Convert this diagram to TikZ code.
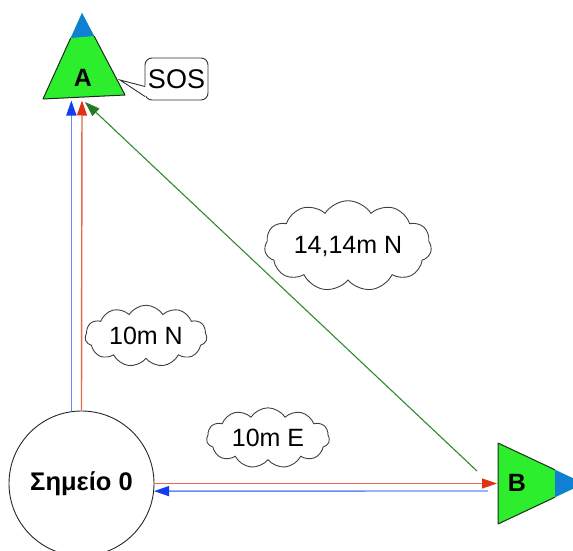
\documentclass[tikz,border=0pt]{standalone}
\usepackage{fontspec}
\setmainfont{Liberation Sans}
\usetikzlibrary{shapes.symbols,arrows.meta,calc}
\definecolor{tgreen}{RGB}{45,238,45}
\definecolor{tblue}{RGB}{15,128,212}
\definecolor{edge}{RGB}{25,45,25}
\definecolor{lineblue}{RGB}{95,140,250}
\definecolor{headblue}{RGB}{20,60,240}
\definecolor{linered}{RGB}{228,105,80}
\definecolor{headred}{RGB}{225,50,20}
\definecolor{linegreen}{RGB}{45,140,45}
\begin{document}
\begin{tikzpicture}[x=1pt,y=-1pt,
  lbl/.style={font=\fontsize{25}{29}\selectfont\bfseries, inner sep=0pt},
  txt/.style={font=\fontsize{25}{29}\selectfont},
  cloudbox/.style={cloud, draw=black!75, line width=0.9pt, cloud puffs=11, cloud puff arc=115, aspect=2.2, inner sep=0pt, txt},
  bluearr/.style={draw=lineblue, line width=1.4pt, -{Triangle[length=15pt,width=10pt,color=headblue]}},
  redarr/.style={draw=linered, line width=1.4pt, -{Triangle[length=15pt,width=10pt,color=headred]}},
  greenarr/.style={draw=linegreen, line width=1.1pt, -{Triangle[length=15pt,width=10pt,color=linegreen!85!black]}}]
\useasboundingbox (0,0) rectangle (573,551);
\clip (0,0) rectangle (573,551);

% triangle A
\fill[tgreen] (82,13) -- (125,95) -- (43,99) -- cycle;
\fill[tblue] (82,13) -- (94.1,36) -- (70.7,38) -- cycle;
\draw[edge, line width=1pt, line join=round] (94.1,36) -- (125,95) -- (43,99) -- (70.7,38);
\node[lbl] (A) at (83,78) {A};

% triangle B
\fill[tgreen] (498,443) -- (584,483.5) -- (498,524) -- cycle;
\fill[tblue] (555,469.8) -- (584,483.5) -- (555,497.2) -- cycle;
\draw[edge, line width=1pt, line join=round] (555,469.8) -- (498,443) -- (498,524) -- (555,497.2);
\node[lbl] (B) at (517,483) {B};

% SOS callout
\node[draw=black!80, line width=0.9pt, rounded corners=7pt, minimum width=63pt, minimum height=42pt, inner sep=0pt, font=\fontsize{27}{31}\selectfont] (sos) at (176.5,79) {SOS};
\coordinate (sostip) at (120,80);
\fill[white] (146,86.5) -- (sostip) -- (146,96.5) -- cycle;
\draw[black!80, line width=0.9pt] (145,86.5) -- (sostip) -- (145,96.5);

% start circle
\node[draw=black!85, line width=0.9pt, circle, minimum size=145pt, inner sep=0pt, font=\fontsize{25.5}{29}\selectfont\bfseries] (S) at (81.5,483.5) {Σημείο 0};

% target points
\coordinate (Abase) at (82,100.5);
\coordinate (Bwest) at (497,483.5);
\coordinate (Bblue) at (488,491);
\coordinate (Bgreen) at (477,471);
\coordinate (Agreen) at (85,102);

% connectors
\draw[bluearr] (S.98) -- (S.98 |- Abase);
\draw[redarr] (S.north) -- (Abase);
\draw[redarr] (S.east) -- (Bwest);
\draw[bluearr] (Bblue) -- (S.-6);
\draw[greenarr] (Bgreen) -- (Agreen);

% clouds
\node[cloudbox, minimum width=122pt, minimum height=58pt] (cN) at (146,336) {10m N};
\node[cloudbox, minimum width=167pt, minimum height=60pt] (cD) at (348,246) {14,14m N};
\node[cloudbox, minimum width=123pt, minimum height=60pt] (cE) at (268,438) {10m E};
\end{tikzpicture}
\end{document}
